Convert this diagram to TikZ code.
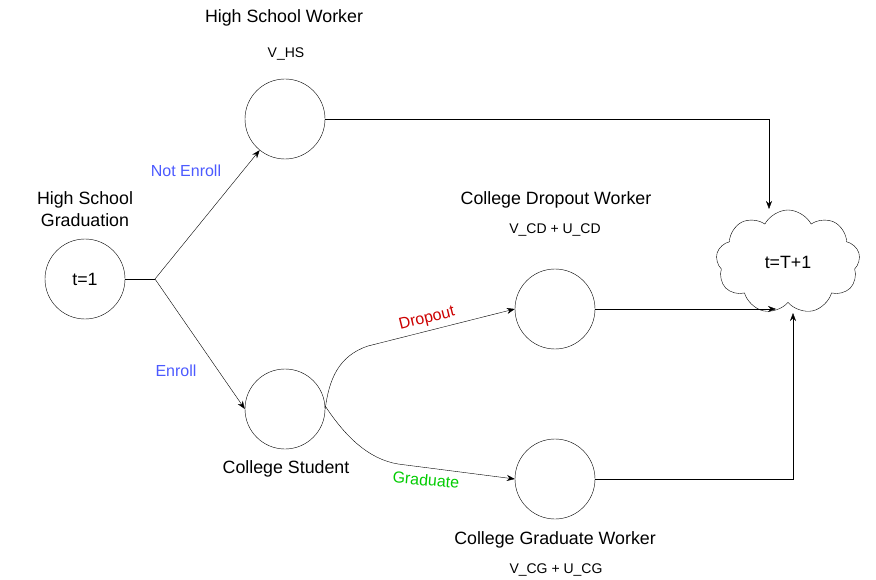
\documentclass[tikz,border=0pt]{standalone}
\usepackage{fontspec}
\setmainfont{Liberation Sans}
\usepackage{xcolor}
\usetikzlibrary{arrows.meta, positioning, shapes.symbols}

\definecolor{enrollblue}{RGB}{76,90,255}
\definecolor{dropred}{RGB}{204,0,0}
\definecolor{gradgreen}{RGB}{0,204,0}

\begin{document}
\begin{tikzpicture}[
      x=1pt, y=-1pt,
      state/.style={draw, circle, minimum size=80pt, inner sep=0pt,
                    font=\fontsize{17.8}{22}\selectfont},
      title/.style={align=center, inner sep=0pt, font=\fontsize{17.8}{22}\selectfont},
      payoff/.style={inner sep=0pt, font=\fontsize{14}{17}\selectfont},
      choice/.style={inner sep=0pt, font=\fontsize{16}{19}\selectfont},
      a/.style={-{Stealth[length=8pt, width=6pt]}},
    ]
    \useasboundingbox (0,0) rectangle (876,580);

    % ---- states ----
    \node[state] (start) at (85,279) {t=1};
    \node[title] (tstart) at (85,209) {High School\\Graduation};
    \node[state] (hsw) at (285,119) {};
    \node[title] (thsw) at (284,18) {High School Worker};
    \node[payoff] (phsw) at (286,54) {V\_HS};
    \node[state] (cs) at (285,409) {};
    \node[title] (tcs) at (286,469) {College Student};
    \node[state] (cdw) at (555,309) {};
    \node[title] (tcdw) at (556,200) {College Dropout Worker};
    \node[payoff] (pcdw) at (555,230) {V\_CD + U\_CD};
    \node[state] (cgw) at (555,479) {};
    \node[title] (tcgw) at (555,540) {College Graduate Worker};
    \node[payoff] (pcgw) at (556,570) {V\_CG + U\_CG};

    % ---- terminal period ----
    \node[draw, cloud, cloud puffs=9, cloud puff arc=125, aspect=1.4,
          minimum width=144pt, minimum height=104pt, inner sep=0pt,
          font=\fontsize{17.8}{22}\selectfont] (term) at (788,262) {t=T+1};
    \coordinate (intop) at (769,209);
    \coordinate (inleft) at (776,309);
    \coordinate (inbot) at (793,313);

    % ---- first choice ----
    \coordinate (split) at (155,279);
    \draw (start) -- (split);
    \draw[a] (split) -- (hsw);
    \draw[a] (split) -- (cs.west);
    \node[choice, text=enrollblue] (lne) at (186,171) {Not Enroll};
    \node[choice, text=enrollblue] (le) at (176,371) {Enroll};

    % ---- college outcomes ----
    \draw[a] (cs.east) .. controls (329,380) and (338,356) .. (368,346) -- (cdw.west);
    \draw[a] ([yshift=3pt]cs.east) .. controls (345,436) and (368,459) .. (398,464) -- (cgw.west);
    \node[choice, text=dropred, rotate=14] (ld) at (427,319) {Dropout};
    \node[choice, text=gradgreen, rotate=-5] (lg) at (426,480) {Graduate};

    % ---- into t=T+1 ----
    \draw[a] (hsw.east) -| (intop);
    \draw[a] (cdw.east) -- (inleft);
    \draw[a] (cgw.east) -| (inbot);
  \end{tikzpicture}
\end{document}
